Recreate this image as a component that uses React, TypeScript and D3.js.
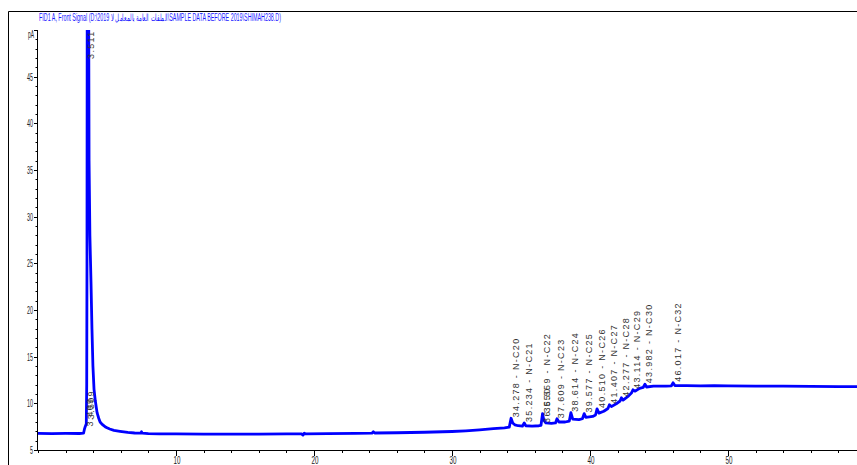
import React from "react";
import * as d3 from "d3";

// Chromatogram trace (retention time in min, signal in pA)
const retentionTimes = [
  0, 1.0, 2.0, 3.0, 3.3, 3.36, 3.42, 3.5, 3.53, 3.55, 3.57, 3.66, 3.7, 3.76, 3.84, 3.91, 3.98, 4.06, 4.15, 4.28,
  4.4, 4.5, 4.65, 4.86, 5.0, 5.2, 5.5, 5.94, 6.5, 7.0, 7.45, 7.5, 7.55, 8.0, 8.8, 10, 12, 14, 16, 18,
  19.1, 19.2, 19.3, 19.4, 21, 23, 24.2, 24.3, 24.4, 26, 28, 30, 31, 32, 33, 33.8, 34.15, 34.28, 34.4, 34.55,
  34.8, 35.1, 35.234, 35.35, 35.8, 36.3, 36.45, 36.559, 36.65, 36.8, 37.2, 37.5, 37.609, 37.75, 38.2, 38.5, 38.614, 38.75, 39.2, 39.45,
  39.577, 39.7, 40.2, 40.4, 40.51, 40.65, 41.0, 41.3, 41.407, 41.55, 41.9, 42.18, 42.277, 42.4, 42.8, 43.0, 43.114, 43.25, 43.6, 43.85,
  43.982, 44.1, 44.6, 45.5, 45.9, 46.017, 46.15, 47, 48, 49, 50, 52, 54, 56, 58, 60,
];
const signalPA = [
  6.78, 6.76, 6.78, 6.77, 6.8, 7.2, 7.5, 7.8, 12, 25, 60, 60, 36, 28, 23, 18, 14, 11.5, 10.3, 9.0,
  8.4, 8.0, 7.75, 7.5, 7.38, 7.25, 7.1, 7.0, 6.88, 6.82, 6.8, 6.95, 6.8, 6.76, 6.72, 6.72, 6.7, 6.7, 6.7, 6.72,
  6.72, 6.6, 6.8, 6.72, 6.75, 6.78, 6.8, 6.95, 6.82, 6.85, 6.9, 6.98, 7.05, 7.15, 7.28, 7.38, 7.45, 8.4, 7.9, 7.7,
  7.6, 7.55, 7.9, 7.6, 7.55, 7.6, 7.65, 8.9, 8.2, 7.9, 7.85, 7.9, 8.35, 8.0, 8.0, 8.1, 9.0, 8.3, 8.25, 8.35,
  8.9, 8.5, 8.6, 8.75, 9.4, 8.95, 9.15, 9.45, 9.85, 9.65, 9.95, 10.25, 10.6, 10.35, 10.8, 11.1, 11.45, 11.3, 11.6, 11.7,
  12.05, 11.75, 11.85, 11.85, 11.88, 12.2, 11.9, 11.9, 11.88, 11.9, 11.88, 11.85, 11.85, 11.82, 11.8, 11.8,
];

// Peak annotations
const peakTimes = [3.409, 3.509, 3.511, 34.278, 35.234, 36.55, 36.559, 37.609, 38.614, 39.577, 40.51, 41.407, 42.277, 43.114, 43.982, 46.017];
const peakLabels = [
  "3.409", "3.509", "3.511",
  "34.278 - N-C20", "35.234 - N-C21", "36.550", "36.559 - N-C22", "37.609 - N-C23", "38.614 - N-C24",
  "39.577 - N-C25", "40.510 - N-C26", "41.407 - N-C27", "42.277 - N-C28", "43.114 - N-C29", "43.982 - N-C30", "46.017 - N-C32",
];
const peakHeights = [7.4, 8.2, 46.8, 8.4, 7.9, 7.8, 8.9, 8.3, 9.0, 8.9, 9.4, 9.85, 10.6, 11.45, 12.05, 12.2];

const xMajorTicks = [10, 20, 30, 40, 50];
const xMinorTicks = d3.range(0, 60, 2);
const yMajorTicks = [5, 10, 15, 20, 25, 30, 35, 40, 45];
const yMinorTicks = d3.range(5, 51, 1);
const yUnitLabel = "pA";
const title =
  "FID1 A, Front Signal (D:\\2019 الملفات العامة بالمعامل لا\\SAMPLE DATA BEFORE 2019\\SHIMAH238.D)";

const W = 857;
const H = 465;

export default function App() {
  const x = d3.scaleLinear().domain([0, 60]).range([38, 38 + 60 * 13.8]);
  const y = d3.scaleLinear().domain([5, 50]).range([450, 30]);
  const pts: [number, number][] = retentionTimes.map((t, i) => [t, signalPA[i]]);
  const line = d3
    .line<[number, number]>()
    .x((d) => x(d[0]))
    .y((d) => y(d[1]));
  const axisColor = "#000";
  const tickFont = "Liberation Sans, Arial, sans-serif";

  return (
    <svg
      width={W}
      height={H}
      style={{ position: "absolute", left: 0, top: 0, background: "#fff" }}
    >
      <defs>
        <clipPath id="plot">
          <rect x={37} y={y(50)} width={W - 37} height={y(5) - y(50)} />
        </clipPath>
      </defs>
      {/* frame */}
      <line x1={8.5} y1={11.5} x2={W} y2={11.5} stroke="#000" strokeWidth={1} />
      <line x1={8.5} y1={11.5} x2={8.5} y2={H} stroke="#000" strokeWidth={1} />
      {/* title */}
      <text
        x={39}
        y={21}
        fontSize={10}
        fontFamily={tickFont}
        fill="#1a1aff"
        textLength={242}
        lengthAdjust="spacingAndGlyphs"
      >
        {title}
      </text>

      {/* y axis */}
      <line x1={37.5} y1={y(50)} x2={37.5} y2={y(5)} stroke={axisColor} strokeWidth={1} />
      {yMinorTicks.map((v) => (
        <line key={"ym" + v} x1={35.5} x2={37.5} y1={Math.round(y(v)) + 0.5} y2={Math.round(y(v)) + 0.5} stroke={axisColor} />
      ))}
      {yMajorTicks.map((v) => (
        <line key={"yM" + v} x1={34} x2={37.5} y1={Math.round(y(v)) + 0.5} y2={Math.round(y(v)) + 0.5} stroke={axisColor} />
      ))}
      {yMajorTicks.map((v) => (
        <text
          key={"yl" + v}
          x={33}
          y={y(v) + 4}
          fontSize={11}
          fontFamily={tickFont}
          fill="#222"
          textAnchor="end"
          textLength={String(v).length * 3}
          lengthAdjust="spacingAndGlyphs"
        >
          {v}
        </text>
      ))}
      <text
        x={34}
        y={y(50) + 8}
        fontSize={11}
        fontFamily={tickFont}
        fill="#222"
        textAnchor="end"
        textLength={6}
        lengthAdjust="spacingAndGlyphs"
      >
        {yUnitLabel}
      </text>
      <line x1={34} x2={37.5} y1={Math.round(y(50)) + 0.5} y2={Math.round(y(50)) + 0.5} stroke={axisColor} />

      {/* x axis */}
      <line x1={37} y1={450.5} x2={W} y2={450.5} stroke={axisColor} strokeWidth={1} />
      {xMinorTicks.map((v) => (
        <line key={"xm" + v} x1={Math.round(x(v)) + 0.5} x2={Math.round(x(v)) + 0.5} y1={450.5} y2={453} stroke={axisColor} />
      ))}
      {xMajorTicks.map((v) => (
        <line key={"xM" + v} x1={Math.round(x(v)) + 0.5} x2={Math.round(x(v)) + 0.5} y1={450.5} y2={456} stroke={axisColor} />
      ))}
      {xMajorTicks.map((v) => (
        <text
          key={"xl" + v}
          x={x(v) + 1}
          y={464}
          fontSize={10}
          fontFamily={tickFont}
          fill="#222"
          textAnchor="middle"
          textLength={7}
          lengthAdjust="spacingAndGlyphs"
        >
          {v}
        </text>
      ))}

      {/* signal */}
      <g clipPath="url(#plot)">
        <path d={line(pts) || ""} fill="none" stroke="#0000ff" strokeWidth={2.8} strokeLinejoin="round" />
      </g>

      {/* peak labels */}
      {peakTimes.map((t, i) => {
        const bx = x(t) + 7.5;
        const by = y(peakHeights[i]) - 1;
        return (
          <text
            key={"pk" + i}
            x={bx}
            y={by}
            transform={`rotate(-90 ${bx} ${by})`}
            fontSize={9}
            fontFamily={tickFont}
            fill="#333"
            letterSpacing={1.3}
          >
            {peakLabels[i]}
          </text>
        );
      })}
    </svg>
  );
}
